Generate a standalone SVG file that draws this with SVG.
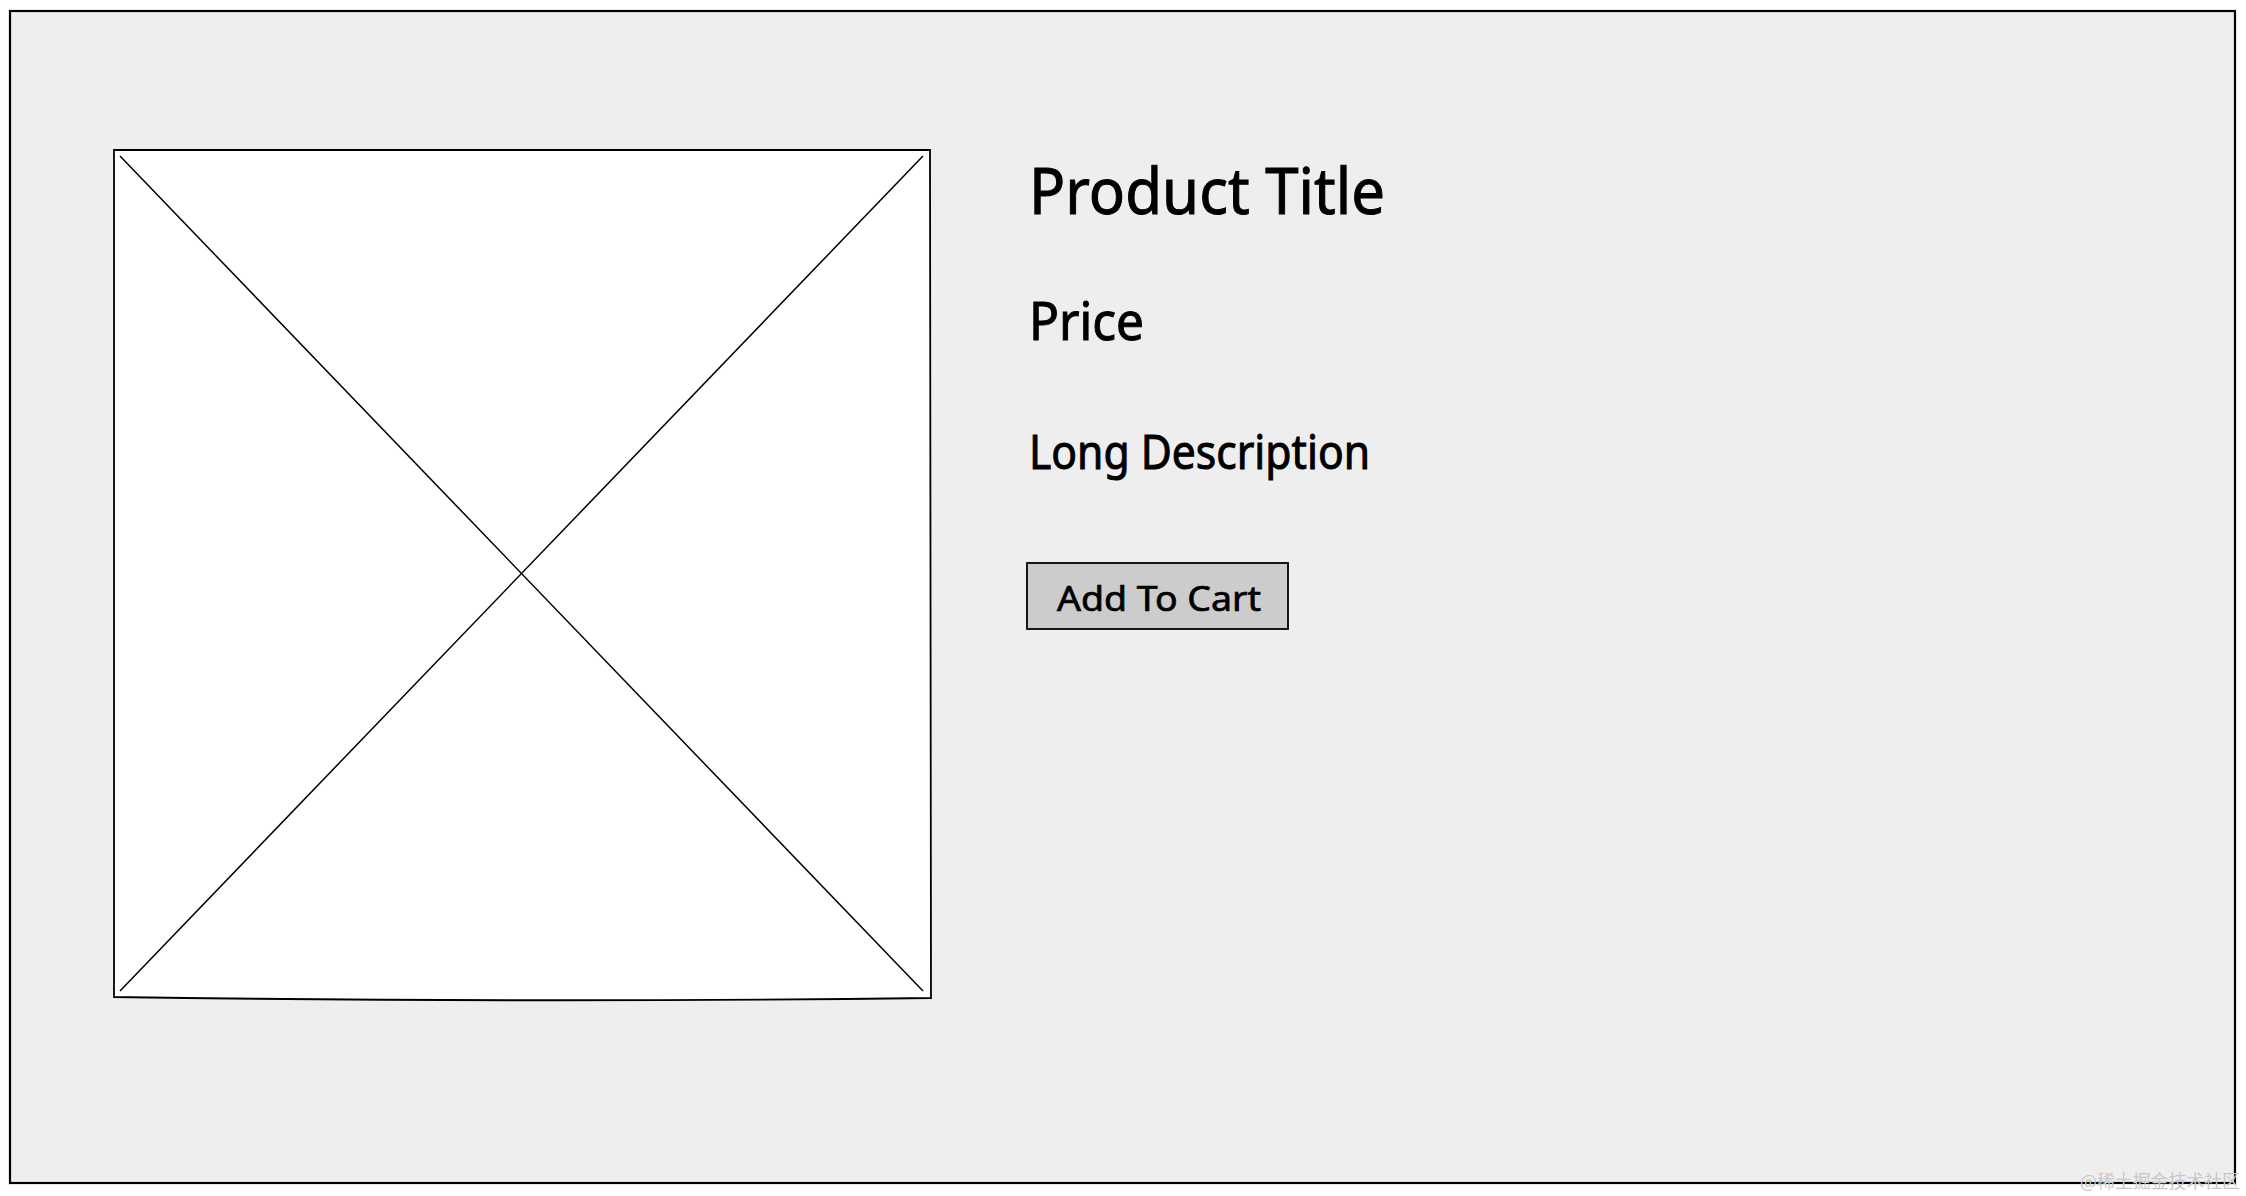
<svg xmlns="http://www.w3.org/2000/svg" width="2246" height="1196" viewBox="0 0 2246 1196">
<style>
.t{font-family:"Comic Sans MS","Noto Sans","DejaVu Sans",sans-serif;fill:#000;stroke:#000;stroke-width:1}
.ln{stroke:#000;fill:none}
</style>
<rect x="0" y="0" width="2246" height="1196" fill="#ffffff"/>
<g id="frame">
<rect x="10" y="11" width="2225" height="1172" fill="#eeeeee" stroke="#000" stroke-width="2.2"/>
</g>
<g id="image">
<path d="M114 150 L930 150 L931 998 Q522 1003 114 997 Z" fill="#ffffff" stroke="#000" stroke-width="1.8"/>
<g class="ln" stroke-width="1.5">
<line x1="120" y1="156" x2="923" y2="991"/>
<line x1="923" y1="156" x2="120" y2="991"/>
</g>
</g>
<g id="title"><text class="t" x="1029" y="214" font-size="63" textLength="356" lengthAdjust="spacingAndGlyphs">Product Title</text></g>
<g id="price"><text class="t" x="1029" y="340" font-size="52" textLength="115" lengthAdjust="spacingAndGlyphs">Price</text></g>
<g id="description"><text class="t" x="1029" y="469" font-size="48" textLength="341" lengthAdjust="spacingAndGlyphs">Long Description</text></g>
<g id="button">
<rect x="1027" y="563" width="261" height="66" fill="#cccccc" stroke="#000" stroke-width="1.8"/>
<text class="t" x="1057" y="611" font-size="34" textLength="204" lengthAdjust="spacingAndGlyphs" style="stroke-width:0.7">Add To Cart</text>
</g>
<g id="connectors"></g>
<text x="2080" y="1188" font-family="'Noto Sans CJK SC',sans-serif" font-size="18" fill="#c8c8c8" textLength="160" lengthAdjust="spacingAndGlyphs">@稀土掘金技术社区</text>
</svg>
